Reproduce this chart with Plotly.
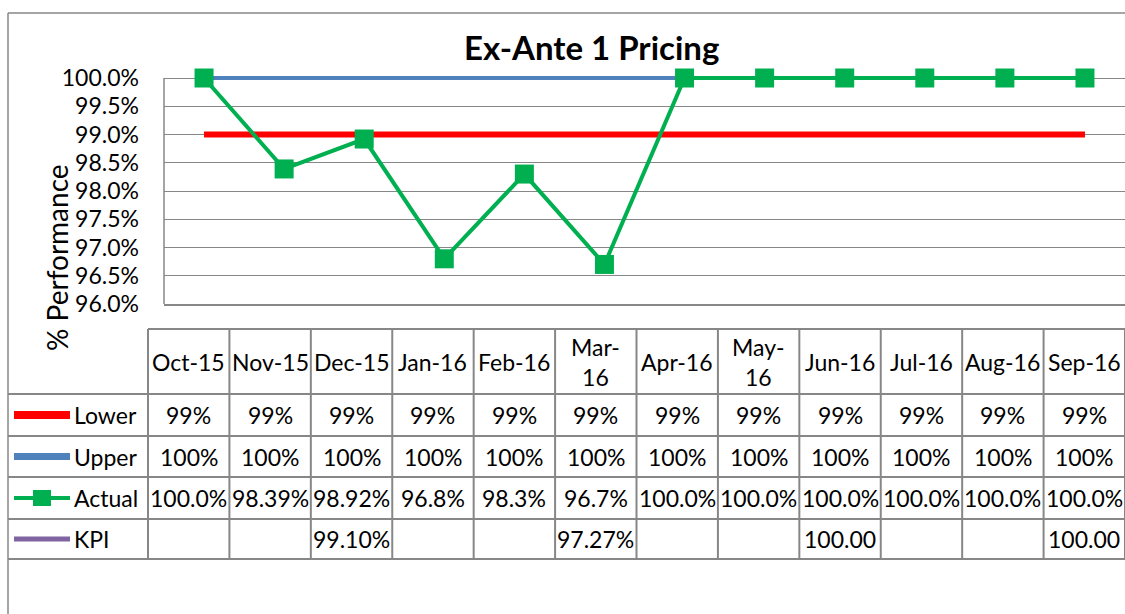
import plotly.graph_objects as go

# ---------------- data ----------------
months = ["Oct-15", "Nov-15", "Dec-15", "Jan-16", "Feb-16", "Mar-16",
          "Apr-16", "May-16", "Jun-16", "Jul-16", "Aug-16", "Sep-16"]
header_labels = ["Oct-15", "Nov-15", "Dec-15", "Jan-16", "Feb-16", "Mar-<br>16",
                 "Apr-16", "May-<br>16", "Jun-16", "Jul-16", "Aug-16", "Sep-16"]
lower = [0.99] * 12
upper = [1.00] * 12
actual = [1.000, 0.9839, 0.9892, 0.968, 0.983, 0.967,
          1.000, 1.000, 1.000, 1.000, 1.000, 1.000]
kpi = [None, None, 0.9910, None, None, 0.9727, None, None, 1.0000, None, None, 1.0000]

lower_txt = ["99%"] * 12
upper_txt = ["100%"] * 12
actual_txt = ["100.0%", "98.39%", "98.92%", "96.8%", "98.3%", "96.7%",
              "100.0%", "100.0%", "100.0%", "100.0%", "100.0%", "100.0%"]
kpi_txt = ["", "", "99.10%", "", "", "97.27%", "", "", "100.00", "", "", "100.00"]

series_names = ["Lower", "Upper", "Actual", "KPI"]
y_min, y_max = 0.96, 1.00

# ---------------- layout helpers ----------------
W, H = 1125, 614
FONT = "Lato"
GRAY = "#878787"
RED, BLUE, GREEN, PURPLE = "#FF0000", "#4F81BD", "#00B050", "#8064A2"
FS = 23

PLOT_L, PLOT_T, PLOT_B = 164, 78, 304
pad = 0.003  # extra headroom so top line/markers are not clipped
ppu = (PLOT_B - PLOT_T) / (y_max - y_min)
top_px = PLOT_T - pad * ppu


def px(x):
    return x / W


def py(y):
    return 1 - y / H


fig = go.Figure()
idx = list(range(len(months)))
fig.add_trace(go.Scatter(x=idx, y=upper, mode="lines", line=dict(color=BLUE, width=4),
                         name="Upper", showlegend=False, cliponaxis=False))
fig.add_trace(go.Scatter(x=idx, y=lower, mode="lines", line=dict(color=RED, width=6),
                         name="Lower", showlegend=False, cliponaxis=False))
fig.add_trace(go.Scatter(x=idx, y=kpi, mode="lines", line=dict(color=PURPLE, width=4),
                         connectgaps=False, name="KPI", showlegend=False))
fig.add_trace(go.Scatter(x=idx, y=actual, mode="lines+markers",
                         line=dict(color=GREEN, width=4),
                         marker=dict(symbol="square", size=19, color=GREEN),
                         name="Actual", showlegend=False, cliponaxis=False))

shapes = []
annotations = []


def hline(y, x0, x1, w=2, c=GRAY, layer="above"):
    shapes.append(dict(type="line", xref="paper", yref="paper", x0=px(x0), x1=px(x1),
                       y0=py(y), y1=py(y), line=dict(color=c, width=w), layer=layer))


def vline(x, y0, y1, w=2, c=GRAY, layer="above"):
    shapes.append(dict(type="line", xref="paper", yref="paper", x0=px(x), x1=px(x),
                       y0=py(y0), y1=py(y1), line=dict(color=c, width=w), layer=layer))


def text(x, y, s, size=FS, xanchor="center"):
    annotations.append(dict(xref="paper", yref="paper", x=px(x), y=py(y), text=s,
                            showarrow=False, xanchor=xanchor, yanchor="middle",
                            font=dict(family=FONT, size=size, color="black"),
                            align="center"))


# outer border
vline(8, 13, 614, w=1.5)
hline(13, 8, 1125, w=1.5)

# value axis line (only over the data range)
vline(PLOT_L, PLOT_T, PLOT_B, w=1.5, layer="below")

# table grid
col_x0, col_x1 = 148, 1125
ncol = len(months)
cw = (col_x1 - col_x0) / ncol
row_lines = [329, 394, 436, 477, 519, 559]
hline(row_lines[0], col_x0, col_x1)
for y in row_lines[1:]:
    hline(y, 8, col_x1)
for i in range(ncol + 1):
    vline(col_x0 + i * cw, row_lines[0], row_lines[-1])

# header
hdr_y = (row_lines[0] + row_lines[1]) / 2
for i, lab in enumerate(header_labels):
    text(col_x0 + (i + 0.5) * cw, hdr_y, lab)

# rows
rows = [lower_txt, upper_txt, actual_txt, kpi_txt]
colors = [RED, BLUE, GREEN, PURPLE]
widths = [8, 7, 4, 5]
for r, (vals, nm, c, lw) in enumerate(zip(rows, series_names, colors, widths)):
    yc = (row_lines[r + 1] + row_lines[r + 2]) / 2
    hline(yc, 14, 70, w=lw, c=c)
    if nm == "Actual":
        shapes.append(dict(type="rect", xref="paper", yref="paper",
                           x0=px(33), x1=px(51), y0=py(yc - 8), y1=py(yc + 8),
                           fillcolor=GREEN, line=dict(width=0)))
    text(72, yc, nm, xanchor="left")
    for i, v in enumerate(vals):
        if v:
            text(col_x0 + (i + 0.5) * cw, yc, v)

# title and axis title
text(591, 47, "<b>Ex-Ante 1 Pricing</b>", size=33)
annotations.append(dict(xref="paper", yref="paper", x=px(57), y=py(258),
                        text="% Performance", showarrow=False, textangle=-90,
                        xanchor="center", yanchor="middle",
                        font=dict(family=FONT, size=28, color="black")))

fig.update_layout(
    template="none",
    width=W, height=H, autosize=False,
    margin=dict(l=0, r=0, t=0, b=0, pad=0),
    paper_bgcolor="white", plot_bgcolor="white",
    showlegend=False,
    shapes=shapes, annotations=annotations,
    xaxis=dict(domain=[px(PLOT_L), 1.0], range=[-0.5, 11.5], showticklabels=False,
               showgrid=False, zeroline=False, showline=True, linecolor=GRAY,
               linewidth=1.5, ticks="", automargin=False),
    yaxis=dict(domain=[py(PLOT_B), py(top_px)], range=[y_min, y_max + pad],
               tick0=y_min, dtick=0.005,
               tickformat=".1%", showgrid=True, gridcolor=GRAY, gridwidth=1.3,
               zeroline=False, showline=False, ticks="", ticklabelstandoff=24,
               automargin=False,
               tickfont=dict(family=FONT, size=FS, color="black")),
)

fig.write_html("out.html",
               config={"displayModeBar": False},
               post_script="document.body.style.margin='0';"
                           "document.body.style.overflow='hidden';")
